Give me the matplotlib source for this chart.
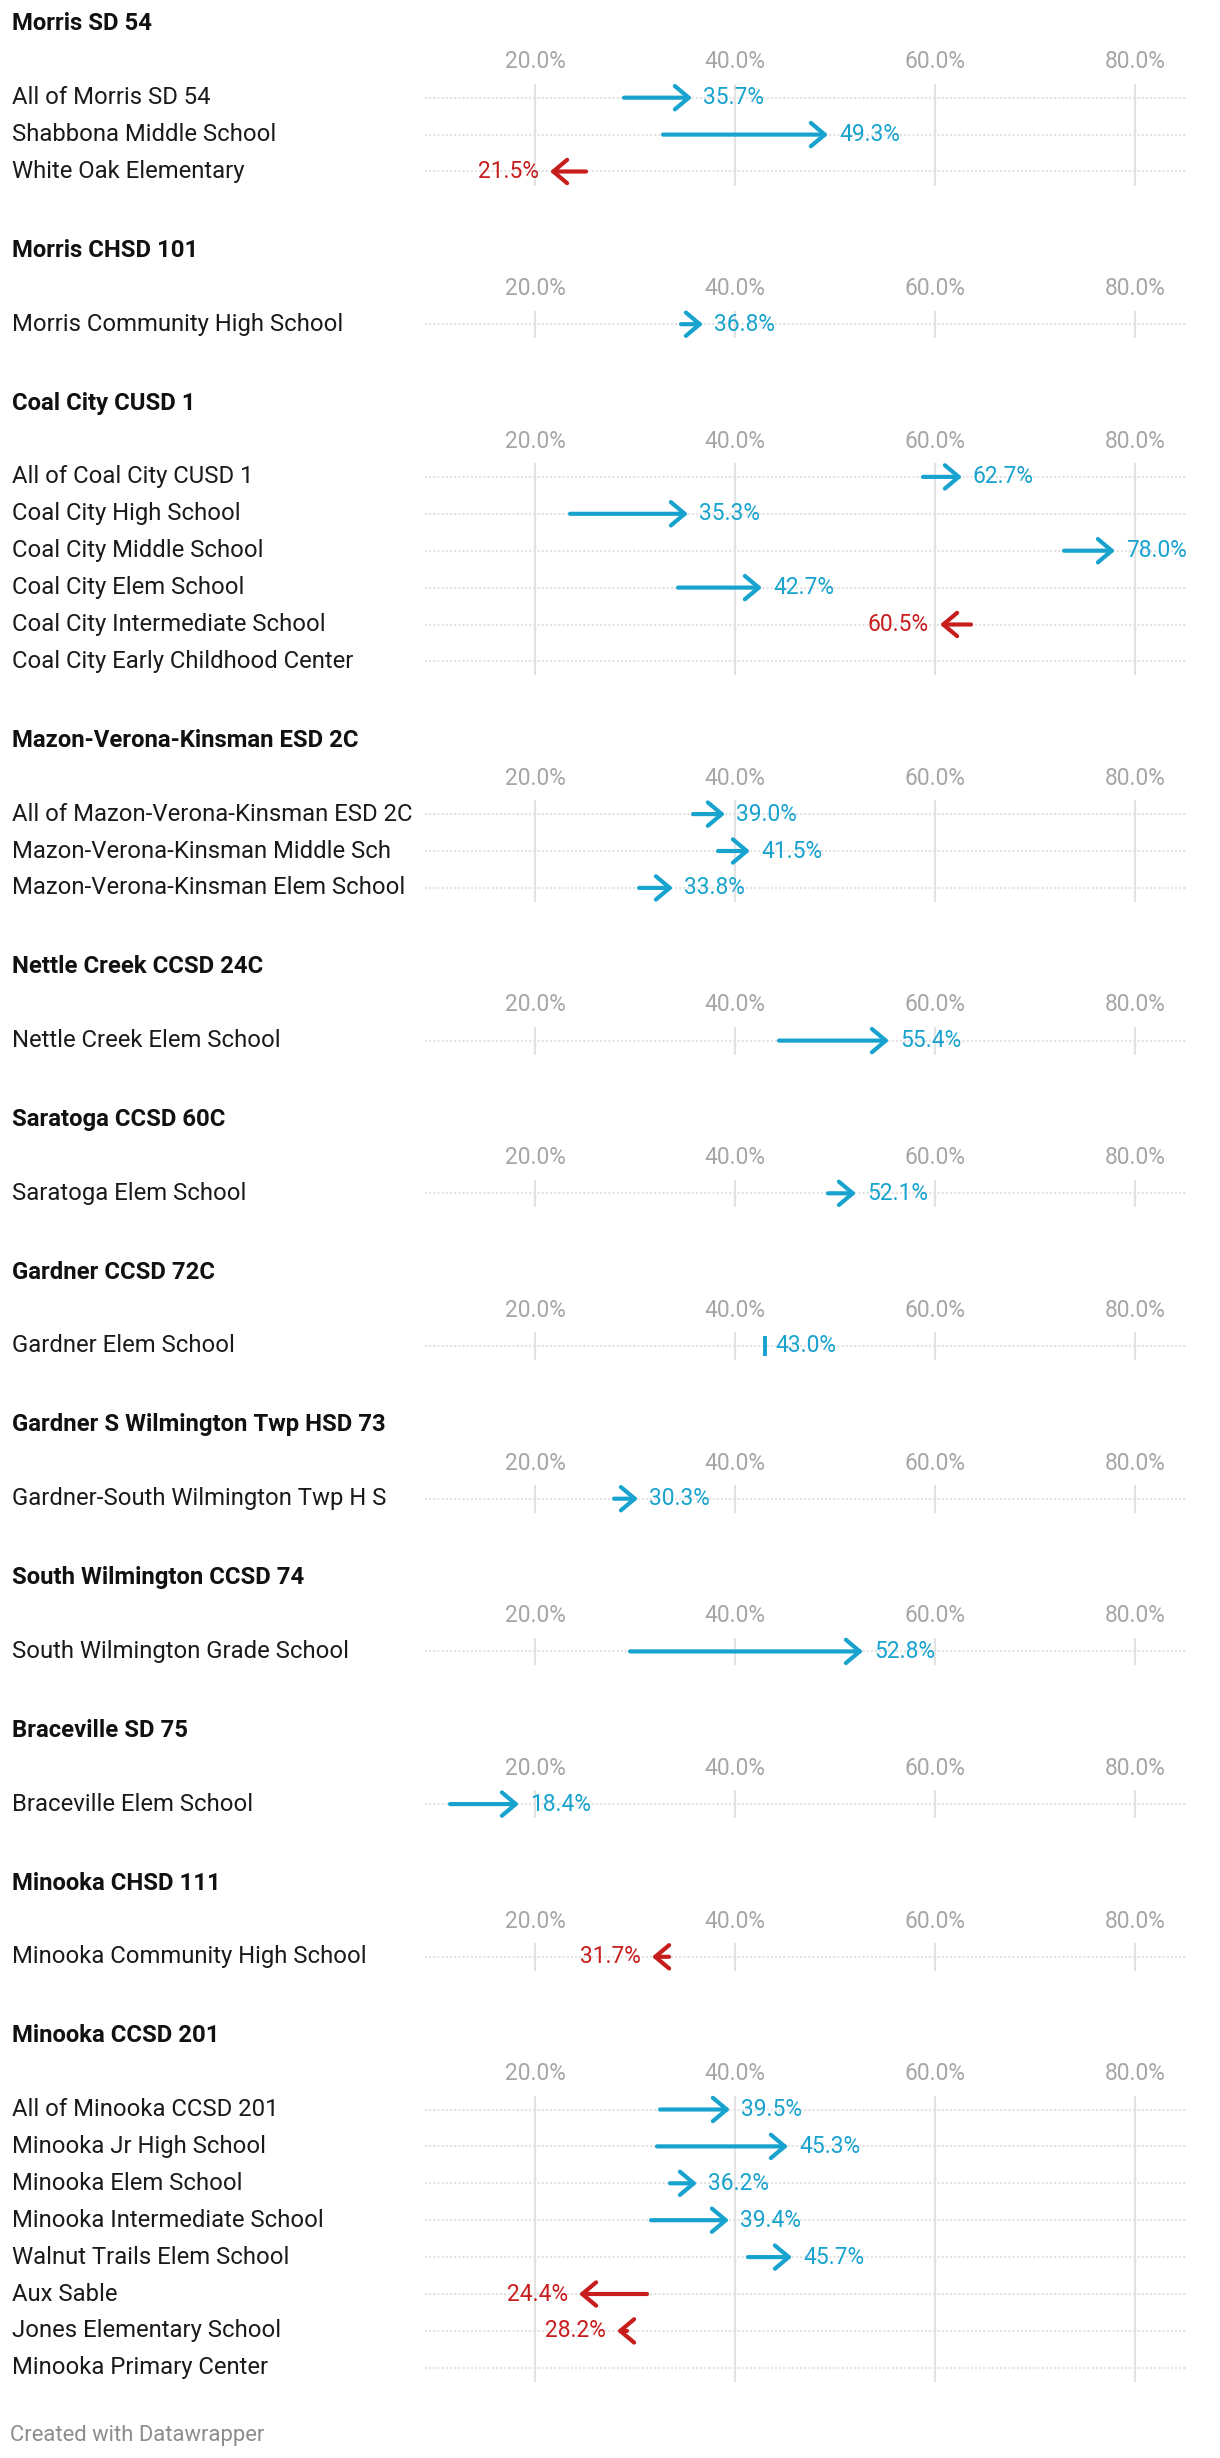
import matplotlib.pyplot as plt
from matplotlib.transforms import blended_transform_factory

plt.rcParams['font.family'] = ['Roboto', 'DejaVu Sans']

district = (["Morris SD 54"] * 3 + ["Morris CHSD 101"] + ["Coal City CUSD 1"] * 6
            + ["Mazon-Verona-Kinsman ESD 2C"] * 3
            + ["Nettle Creek CCSD 24C", "Saratoga CCSD 60C", "Gardner CCSD 72C",
               "Gardner S Wilmington Twp HSD 73", "South Wilmington CCSD 74",
               "Braceville SD 75", "Minooka CHSD 111"]
            + ["Minooka CCSD 201"] * 8)

school = [
    "All of Morris SD 54", "Shabbona Middle School", "White Oak Elementary",
    "Morris Community High School",
    "All of Coal City CUSD 1", "Coal City High School", "Coal City Middle School",
    "Coal City Elem School", "Coal City Intermediate School", "Coal City Early Childhood Center",
    "All of Mazon-Verona-Kinsman ESD 2C", "Mazon-Verona-Kinsman Middle Sch",
    "Mazon-Verona-Kinsman Elem School",
    "Nettle Creek Elem School", "Saratoga Elem School", "Gardner Elem School",
    "Gardner-South Wilmington Twp H S", "South Wilmington Grade School",
    "Braceville Elem School", "Minooka Community High School",
    "All of Minooka CCSD 201", "Minooka Jr High School", "Minooka Elem School",
    "Minooka Intermediate School", "Walnut Trails Elem School", "Aux Sable",
    "Jones Elementary School", "Minooka Primary Center",
]

prev_rate = [28.9, 32.8, 25.1, 34.6, 58.8, 23.5, 72.9, 34.3, 63.6, None,
             35.8, 38.3, 30.4, 44.4, 49.3, 43.0, 27.9, 29.5, 11.5, 33.4,
             32.5, 32.2, 33.5, 31.6, 41.3, 31.2, 29.2, None]
curr_rate = [35.7, 49.3, 21.5, 36.8, 62.7, 35.3, 78.0, 42.7, 60.5, None,
             39.0, 41.5, 33.8, 55.4, 52.1, 43.0, 30.3, 52.8, 18.4, 31.7,
             39.5, 45.3, 36.2, 39.4, 45.7, 24.4, 28.2, None]

ticks = [20, 40, 60, 80]
tick_labels = ["20.0%", "40.0%", "60.0%", "80.0%"]

BLUE = '#18a3cf'
RED = '#c71e1d'
W, H = 1220, 2458

# group rows by district, keeping order
groups = []
for i, d in enumerate(district):
    if not groups or groups[-1][0] != d:
        groups.append((d, []))
    groups[-1][1].append(i)

fig = plt.figure(figsize=(W / 100, H / 100), dpi=100)

left_px, right_px = 425, 1187
row_h = 36.9
title_y = 24
for name, idx in groups:
    n = len(idx)
    first_row = title_y + 73.7
    top_px = first_row - 13.7
    bot_px = first_row + (n - 1) * row_h + 14
    ax = fig.add_axes([left_px / W, 1 - bot_px / H, (right_px - left_px) / W, (bot_px - top_px) / H])
    ax.set_xlim(9, 85.2)
    ax.set_ylim(n - 1 + 14 / row_h, -13.7 / row_h)
    ax.axis('off')

    fig.text(12 / W, 1 - title_y / H, name, fontsize=17.2, fontweight='bold',
             color='#111111', va='center', ha='left')

    tick_tr = blended_transform_factory(ax.transData, ax.transAxes)
    for t, lab in zip(ticks, tick_labels):
        ax.axvline(t, color='#e3e3e3', lw=1.5, zorder=0)
        ax.text(t, 1 + 22 / (bot_px - top_px), lab, transform=tick_tr, ha='center',
                va='center', fontsize=16.4, color='#a6a6a6')

    lab_tr = blended_transform_factory(fig.transFigure, ax.transData)
    for r, i in enumerate(idx):
        ax.axhline(r, color='#e2e2e2', lw=1.5, ls=(0, (1, 1)), zorder=0.5)
        ax.text(12 / W, r, school[i], transform=lab_tr, ha='left', va='center',
                fontsize=17.2, color='#1a1a1a')
        p, c = prev_rate[i], curr_rate[i]
        if c is None:
            continue
        if p == c:
            col = BLUE
            ax.plot([c, c], [r - 0.27, r + 0.27], color=col, lw=2.8, zorder=3,
                    solid_capstyle='butt')
            ax.text(c + 1.0, r, f"{c:.1f}%", ha='left', va='center', fontsize=16.4, color=col)
            continue
        col = BLUE if c > p else RED
        ax.annotate('', xy=(c, r), xytext=(p, r),
                    arrowprops=dict(arrowstyle='->,head_length=0.5,head_width=0.42',
                                    color=col, lw=3.0, shrinkA=0, shrinkB=0,
                                    mutation_scale=20, joinstyle='round',
                                    capstyle='round'),
                    zorder=3)
        if c > p:
            ax.text(c + 1.1, r, f"{c:.1f}%", ha='left', va='center', fontsize=16.4, color=col)
        else:
            ax.text(c - 1.1, r, f"{c:.1f}%", ha='right', va='center', fontsize=16.4, color=col)

    title_y = bot_px - 14 + 79

fig.text(10 / W, 1 - 2435 / H, "Created with Datawrapper", fontsize=15.8,
         color='#8c8c8c', va='center', ha='left')

fig.savefig('out.png', dpi=100)
